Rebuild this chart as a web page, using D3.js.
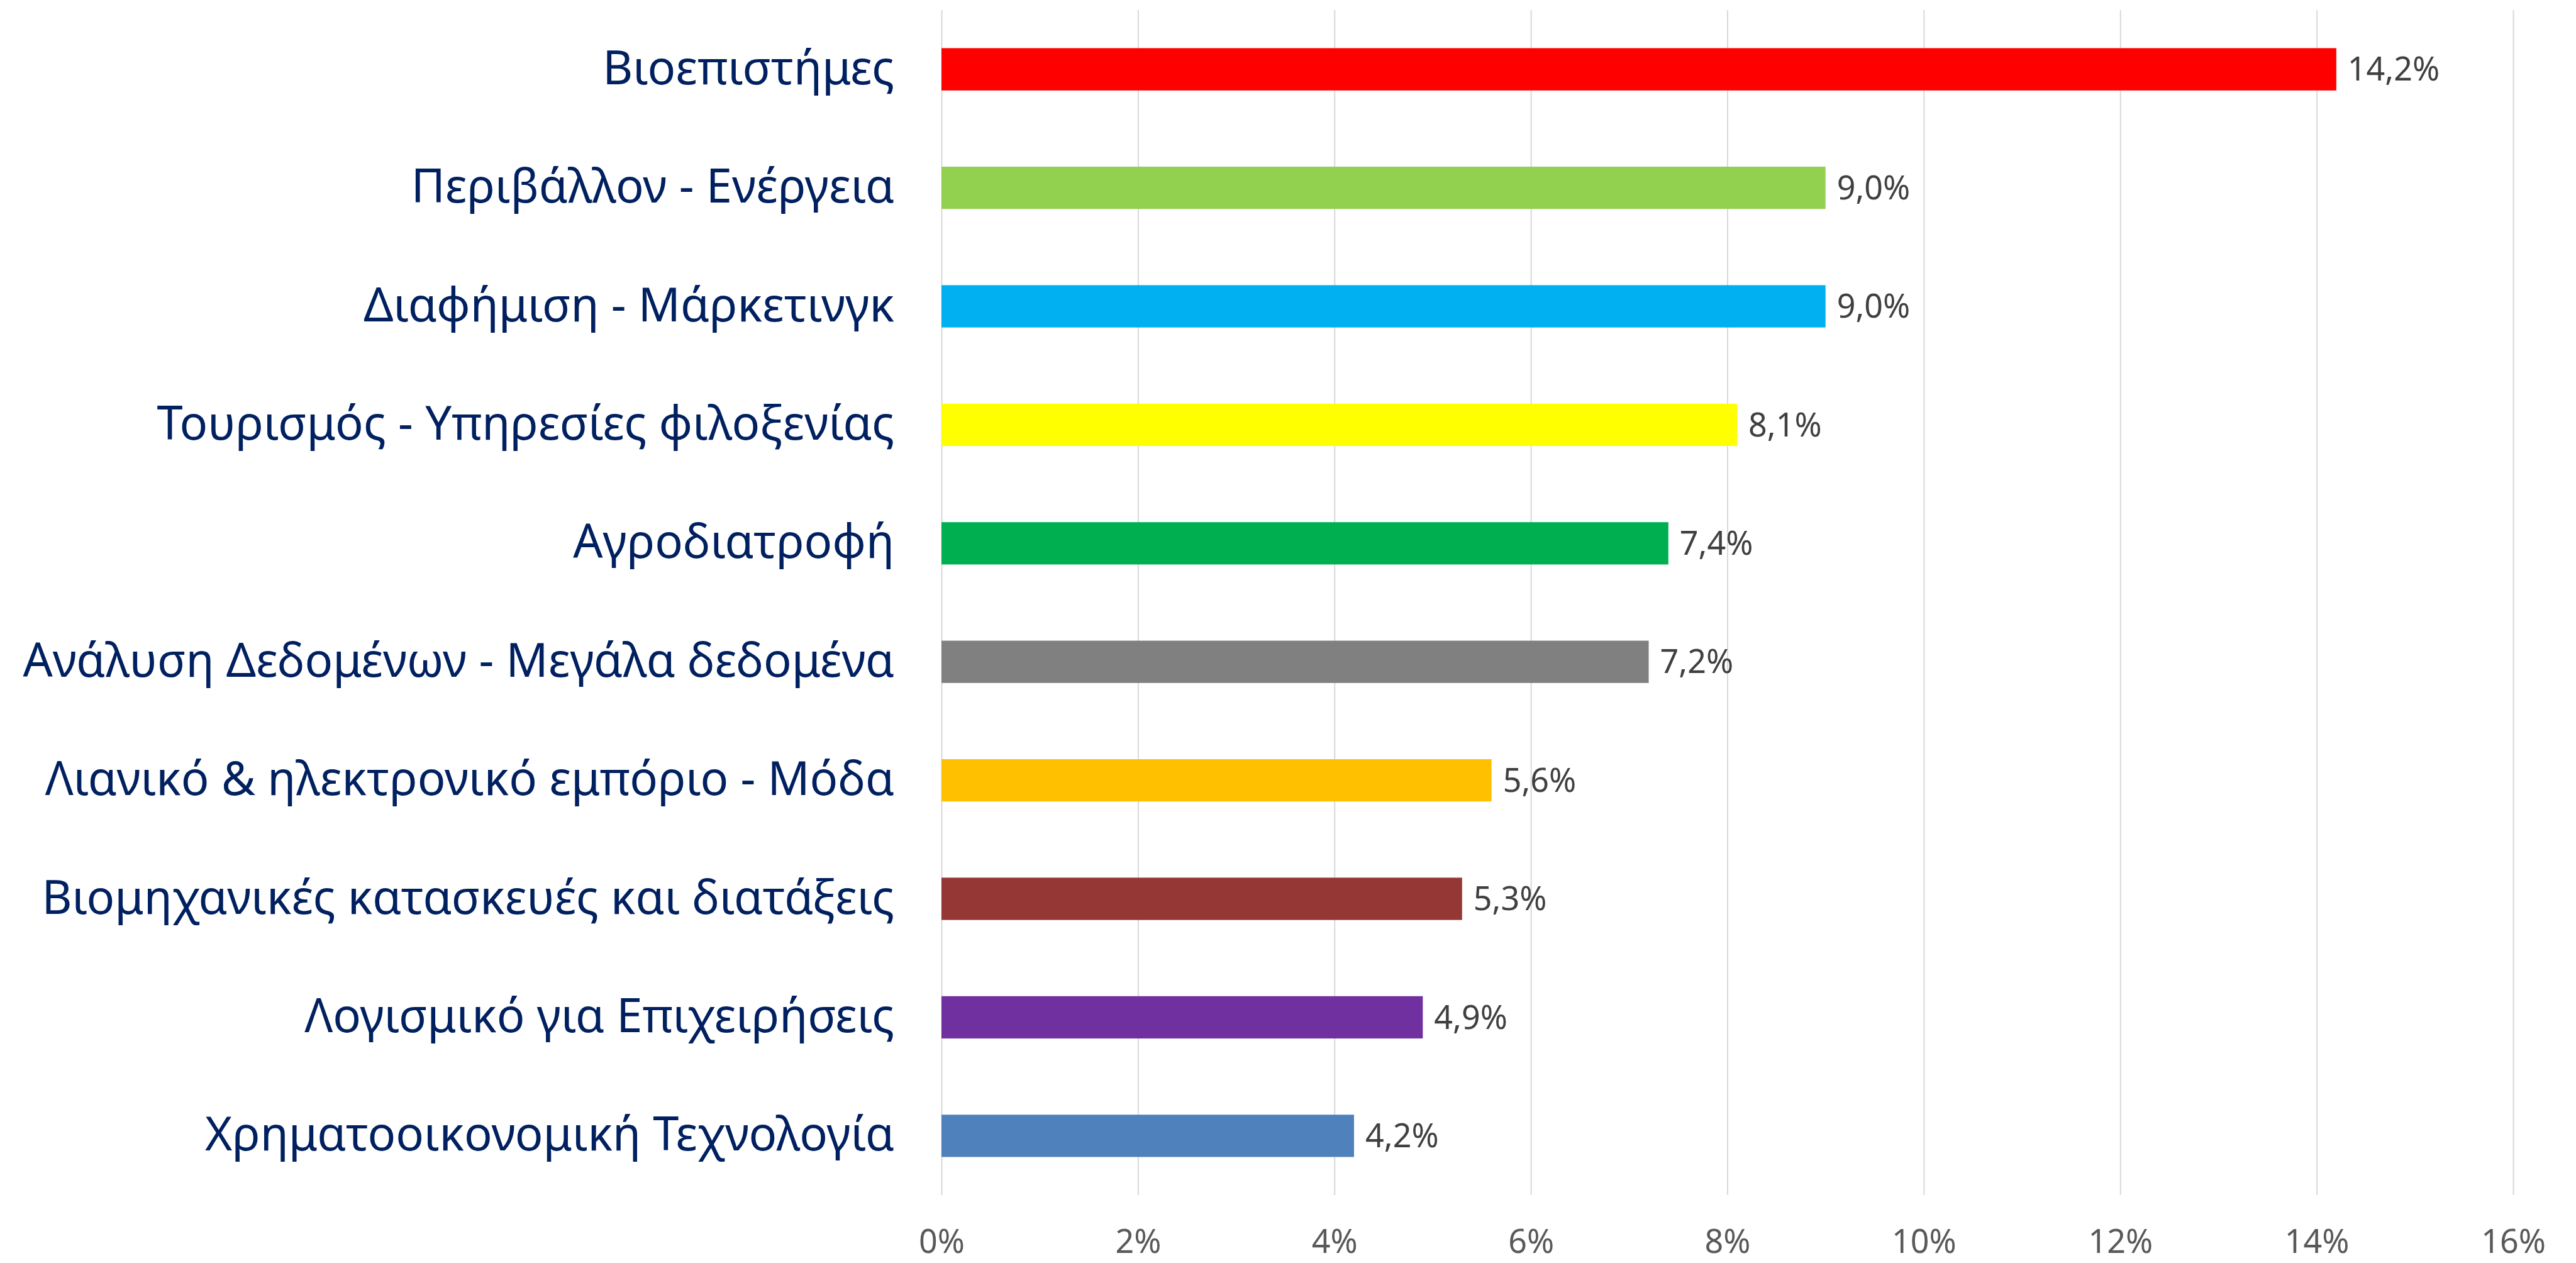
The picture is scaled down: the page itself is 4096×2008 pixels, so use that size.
<!DOCTYPE html>
<html>
<head>
<meta charset="utf-8">
<title>Κλάδοι</title>
<script src="https://d3js.org/d3.v7.min.js"></script>
<style>
  html, body { margin: 0; padding: 0; background: #fff; }
  svg { display: block; }
</style>
</head>
<body>
<svg width="4096" height="2008"></svg>
<script>
// categories and values (top to bottom)
const categories = [
  "Βιοεπιστήμες",
  "Περιβάλλον - Ενέργεια",
  "Διαφήμιση - Μάρκετινγκ",
  "Τουρισμός - Υπηρεσίες φιλοξενίας",
  "Αγροδιατροφή",
  "Ανάλυση Δεδομένων - Μεγάλα δεδομένα",
  "Λιανικό & ηλεκτρονικό εμπόριο - Μόδα",
  "Βιομηχανικές κατασκευές και διατάξεις",
  "Λογισμικό για Επιχειρήσεις",
  "Χρηματοοικονομική Τεχνολογία"
];
const values = [0.142, 0.090, 0.090, 0.081, 0.074, 0.072, 0.056, 0.053, 0.049, 0.042];
const colors = ["#FF0000", "#92D050", "#00B0F0", "#FFFF00", "#00B050",
                "#808080", "#FFC000", "#953735", "#7030A0", "#4F81BD"];
const xTicks = [0, 0.02, 0.04, 0.06, 0.08, 0.10, 0.12, 0.14, 0.16];

const data = categories.map((c, i) => ({ cat: c, val: values[i], color: colors[i] }));

const margin = { top: 16, right: 100, bottom: 108, left: 1497 };
const width = 4096, height = 2008;
const innerW = 3996 - margin.left;
const innerH = height - margin.top - margin.bottom;

const gr = d3.formatLocale({ decimal: ",", thousands: ".", grouping: [3], currency: ["", "€"] });
const pct1 = gr.format(".1%");

const x = d3.scaleLinear().domain([0, 0.16]).range([0, innerW]);
const y = d3.scaleBand()
  .domain(categories)
  .range([0, innerH])
  .paddingInner(0.643)
  .paddingOuter(0.3215);

const svg = d3.select("svg");
const g = svg.append("g").attr("transform", `translate(${margin.left},${margin.top})`);

// gridlines + x labels
const xAxis = g.append("g")
  .attr("transform", `translate(0,${innerH})`)
  .call(d3.axisBottom(x).tickValues(xTicks).tickFormat(d3.format(".0%"))
    .tickSize(-innerH).tickPadding(55));
xAxis.select(".domain").remove();
xAxis.selectAll("line").attr("stroke", "#d9d9d9").attr("stroke-width", 2);
xAxis.selectAll("text")
  .attr("fill", "#595959")
  .style("font-family", "'Noto Sans', sans-serif")
  .style("font-size", "52px");

// category labels
const yAxis = g.append("g")
  .call(d3.axisLeft(y).tickSize(0).tickPadding(75));
yAxis.select(".domain").remove();
yAxis.selectAll("text")
  .attr("fill", "#002060")
  .style("font-family", "'Noto Sans', sans-serif")
  .style("font-size", "74px");

// bars
g.selectAll("rect.bar")
  .data(data)
  .join("rect")
  .attr("class", "bar")
  .attr("x", 0)
  .attr("y", d => y(d.cat))
  .attr("width", d => x(d.val))
  .attr("height", y.bandwidth())
  .attr("fill", d => d.color);

// value labels
g.selectAll("text.val")
  .data(data)
  .join("text")
  .attr("class", "val")
  .attr("x", d => x(d.val) + 18)
  .attr("y", d => y(d.cat) + y.bandwidth() / 2)
  .attr("dy", "0.35em")
  .attr("fill", "#404040")
  .style("font-family", "'Noto Sans', sans-serif")
  .style("font-size", "52px")
  .text(d => pct1(d.val));
</script>
</body>
</html>
